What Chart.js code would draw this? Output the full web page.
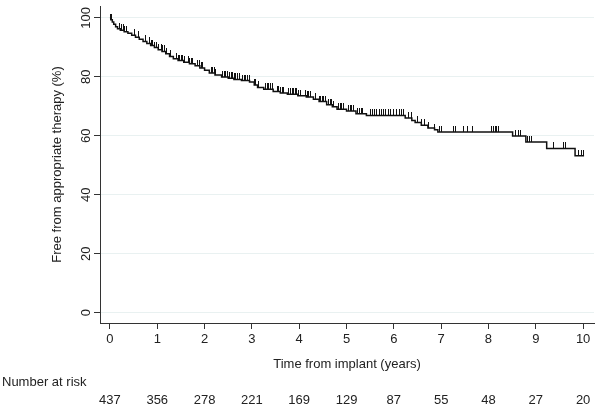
<!DOCTYPE html>
<html>
<head>
<meta charset="utf-8">
<script src="https://cdn.jsdelivr.net/npm/chart.js@4/dist/chart.umd.min.js"></script>
<style>
html,body{margin:0;padding:0;background:#fff;}
#wrap{width:600px;height:408px;}
</style>
</head>
<body>
<div id="wrap"><canvas id="c" width="600" height="408"></canvas></div>
<script>
// Kaplan-Meier step points (years, % free from therapy)
const kmTimes = [0, 0.02, 0.05, 0.08, 0.12, 0.16, 0.22, 0.3, 0.38, 0.46, 0.54, 0.62, 0.7, 0.78, 0.86, 0.94,
  1.02, 1.1, 1.18, 1.26, 1.34, 1.44, 1.56, 1.68, 1.8, 1.9, 2.0, 2.1, 2.22, 2.36, 2.5, 2.62, 2.78, 2.95,
  3.05, 3.12, 3.25, 3.45, 3.6, 3.75, 3.97, 4.15, 4.3, 4.42, 4.58, 4.7, 4.8, 5.0, 5.2, 5.42,
  6.24, 6.38, 6.45, 6.58, 6.72, 6.86, 6.93, 8.51, 8.79, 9.23, 9.83, 10.02];
const kmSurvival = [100, 99.3, 98.6, 97.8, 97.0, 96.3, 95.8, 95.3, 94.8, 94.1, 93.4, 92.7, 92.0, 91.3, 90.6, 89.9,
  89.2, 88.6, 87.8, 86.9, 86.1, 85.5, 84.9, 84.4, 83.7, 83.0, 82.2, 81.3, 80.6, 79.9, 79.5, 79.1, 78.7, 78.2,
  77.2, 76.4, 75.8, 75.0, 74.5, 74.1, 73.6, 73.1, 72.4, 71.6, 70.5, 69.8, 69.0, 68.4, 67.5, 66.9,
  66.0, 65.2, 64.5, 63.6, 62.6, 62.0, 61.3, 59.9, 57.9, 55.7, 53.2, 53.2];
// Censoring times (years)
const censorTimes = [0.02, 0.04, 0.21, 0.245, 0.28, 0.31, 0.35, 0.51, 0.6, 0.75, 0.84, 0.88, 0.91, 0.95, 0.98,
  1.02, 1.09, 1.12, 1.16, 1.19, 1.27, 1.4, 1.44, 1.47, 1.51, 1.54, 1.58, 1.65, 1.68, 1.72, 1.75, 1.86, 1.89, 1.93, 1.96,
  2.14, 2.17, 2.21, 2.24, 2.38, 2.42, 2.45, 2.49, 2.52, 2.56, 2.59, 2.63, 2.66, 2.7, 2.73, 2.8, 2.84, 2.87, 2.91, 2.94,
  3.05, 3.08, 3.15, 3.29, 3.32, 3.36, 3.39, 3.43, 3.54, 3.57, 3.6, 3.64, 3.67, 3.78, 3.81, 3.85, 3.88, 3.92, 3.95, 3.99,
  4.03, 4.13, 4.17, 4.2, 4.24, 4.34, 4.43, 4.46, 4.49, 4.52, 4.55, 4.62, 4.66, 4.69, 4.73, 4.83, 4.87, 4.9, 4.94,
  5.04, 5.08, 5.11, 5.15, 5.23, 5.27, 5.31, 5.34, 5.5, 5.55, 5.59, 5.64, 5.69, 5.73, 5.78, 5.83, 5.88, 5.93,
  6.0, 6.06, 6.11, 6.17, 6.21, 6.32, 6.37, 6.51, 6.58, 6.65, 6.74, 6.86, 6.97, 7.0, 7.26, 7.3, 7.47, 7.56, 7.67,
  8.07, 8.1, 8.14, 8.17, 8.21, 8.58, 8.63, 8.68, 8.82, 8.86, 8.91, 9.23, 9.38, 9.58, 9.63, 9.91, 9.96, 10.01];
const xTicks = [0, 1, 2, 3, 4, 5, 6, 7, 8, 9, 10];
const yTicks = [0, 20, 40, 60, 80, 100];
const atRiskTimes = [0, 1, 2, 3, 4, 5, 6, 7, 8, 9, 10];
const atRisk = [437, 356, 278, 221, 169, 129, 87, 55, 48, 27, 20];
const xTitle = 'Time from implant (years)';
const yTitle = 'Free from appropriate therapy (%)';
const atRiskLabel = 'Number at risk';

// survival value at a censoring time = value of the KM curve at that time
function survivalAt(t) {
  let v = kmSurvival[0];
  for (let i = 0; i < kmTimes.length; i++) { if (kmTimes[i] <= t) v = kmSurvival[i]; }
  return v;
}

const kmData = kmTimes.map((t, i) => ({x: t, y: kmSurvival[i]}));
const censorData = censorTimes.map(t => ({x: t, y: survivalAt(t)}));

// censor mark: short vertical tick rising from the curve
const mark = document.createElement('canvas');
mark.width = 1; mark.height = 12;
const mctx = mark.getContext('2d');
mctx.fillStyle = '#111';
mctx.fillRect(0, 0, 1, 6);

Chart.defaults.font.family = "'Liberation Sans', Arial, sans-serif";
Chart.defaults.font.size = 13;
Chart.defaults.color = '#222';

const atRiskPlugin = {
  id: 'atRisk',
  afterDraw(chart) {
    const ctx = chart.ctx;
    const xs = chart.scales.x;
    ctx.save();
    ctx.fillStyle = '#222';
    ctx.font = "13px 'Liberation Sans', Arial, sans-serif";
    ctx.textBaseline = 'middle';
    ctx.textAlign = 'left';
    ctx.fillText(atRiskLabel, 2, 382);
    ctx.textAlign = 'center';
    atRiskTimes.forEach((t, i) => {
      ctx.fillText(String(atRisk[i]), xs.getPixelForValue(t), 400);
    });
    ctx.restore();
  }
};

new Chart(document.getElementById('c'), {
  type: 'scatter',
  data: {
    datasets: [
      {
        data: kmData,
        showLine: true,
        stepped: 'before',
        borderColor: '#111',
        borderWidth: 1.5,
        pointRadius: 0,
        pointHoverRadius: 0,
        fill: false
      },
      {
        data: censorData,
        showLine: false,
        pointStyle: mark,
        pointRadius: 6,
        pointHoverRadius: 6,
        borderWidth: 0
      }
    ]
  },
  options: {
    responsive: false,
    devicePixelRatio: 1,
    animation: false,
    events: [],
    layout: { padding: { left: 0, right: 3, top: 3, bottom: 0 } },
    plugins: { legend: { display: false }, tooltip: { enabled: false } },
    scales: {
      x: {
        type: 'linear',
        min: -0.21,
        max: 10.23,
        afterBuildTicks: s => { s.ticks = xTicks.map(v => ({value: v})); },
        afterFit: s => { s.height = 85; s.paddingLeft = 0; s.paddingRight = 0; },
        grid: { display: true, drawOnChartArea: false, drawTicks: true, tickLength: 6, tickColor: '#333', tickWidth: 1 },
        border: { display: true, color: '#333', width: 1 },
        ticks: { padding: 3, color: '#222', font: { size: 13 }, maxRotation: 0, minRotation: 0 },
        title: { display: true, text: xTitle, color: '#222', font: { size: 13 }, padding: { top: 0, bottom: 36 } }
      },
      y: {
        type: 'linear',
        min: -3.5,
        max: 104,
        afterBuildTicks: s => { s.ticks = yTicks.map(v => ({value: v})); },
        afterFit: s => { s.width = 100; s.paddingTop = 0; s.paddingBottom = 0; },
        grid: { display: true, drawOnChartArea: true, color: '#e9f1f1', lineWidth: 1, drawTicks: true, tickLength: 6, tickColor: '#333', tickWidth: 1 },
        border: { display: true, color: '#333', width: 1 },
        ticks: { padding: -3, color: '#222', font: { size: 13 }, minRotation: 90, maxRotation: 90, crossAlign: 'center' },
        title: { display: true, text: yTitle, color: '#222', font: { size: 13 }, padding: { top: 50, bottom: 0 } }
      }
    }
  },
  plugins: [atRiskPlugin]
});
</script>
</body>
</html>
